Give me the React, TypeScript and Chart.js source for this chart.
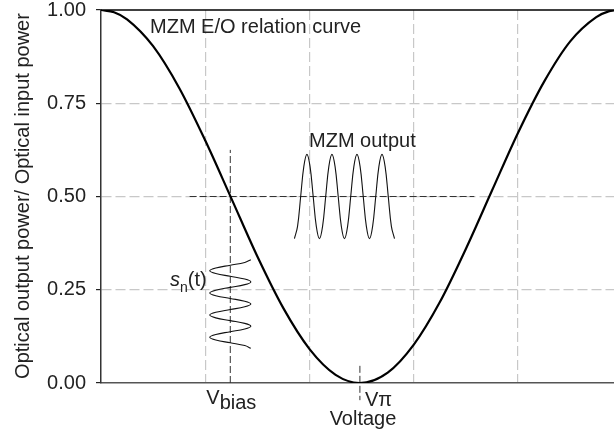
import React, { useEffect, useRef } from "react";
import { Chart, registerables } from "chart.js";

Chart.register(...registerables);

// E/O relation curve (normalized optical power vs voltage, grid units)
const CURVE_X = [0, 0.125, 0.25, 0.5, 0.75, 1.0, 1.25, 1.5, 1.75, 2.0, 2.25, 2.48, 2.75, 3.0, 3.25, 3.5, 3.75, 4.0, 4.25, 4.5, 4.75, 4.875, 4.92];
const CURVE_Y = [1.0, 0.994, 0.975, 0.903, 0.791, 0.65, 0.495, 0.339, 0.2, 0.091, 0.022, 0.0, 0.028, 0.103, 0.217, 0.36, 0.516, 0.671, 0.808, 0.916, 0.981, 0.997, 0.999];

// MZM output waveform
const MZM_X = [1.855, 1.885, 1.915, 1.945, 1.975, 2.005, 2.035, 2.065, 2.095, 2.125, 2.155, 2.185, 2.215, 2.245, 2.275, 2.305, 2.335, 2.365, 2.395, 2.425, 2.455, 2.485, 2.515, 2.545, 2.575, 2.605, 2.635, 2.665, 2.695, 2.725, 2.755, 2.785, 2.815];
const MZM_Y = [0.387, 0.42, 0.5, 0.58, 0.613, 0.58, 0.5, 0.42, 0.387, 0.42, 0.5, 0.58, 0.613, 0.58, 0.5, 0.42, 0.387, 0.42, 0.5, 0.58, 0.613, 0.58, 0.5, 0.42, 0.387, 0.42, 0.5, 0.58, 0.613, 0.58, 0.5, 0.42, 0.387];

// input signal s_n(t) (drawn vertically around V_bias)
const SN_X = [1.437, 1.379, 1.24, 1.101, 1.043, 1.101, 1.24, 1.379, 1.437, 1.379, 1.24, 1.101, 1.043, 1.101, 1.24, 1.379, 1.437, 1.379, 1.24, 1.101, 1.043, 1.101, 1.24, 1.379, 1.437, 1.379, 1.24, 1.101, 1.043, 1.101, 1.24, 1.379, 1.437];
const SN_Y = [0.3305, 0.3231, 0.3157, 0.3082, 0.3008, 0.2934, 0.286, 0.2786, 0.2711, 0.2637, 0.2563, 0.2489, 0.2414, 0.234, 0.2266, 0.2192, 0.2118, 0.2043, 0.1969, 0.1895, 0.1821, 0.1746, 0.1672, 0.1598, 0.1524, 0.145, 0.1375, 0.1301, 0.1227, 0.1153, 0.1078, 0.1004, 0.093];

// reference lines
const VBIAS = 1.24;
const VPI = 2.483;
const BIAS_LINE_X = [VBIAS, VBIAS];
const BIAS_LINE_Y = [0, 0.625];
const HALF_LINE_X = [0.85, 3.58];
const HALF_LINE_Y = [0.5, 0.5];
const VPI_LINE_X = [VPI, VPI];
const VPI_LINE_Y = [0.046, -0.046];

const X_MIN = 0;
const X_MAX = 4.92;
const Y_TICKS = [0, 0.25, 0.5, 0.75, 1.0];

const FONT = '"Liberation Sans", Arial, Helvetica, sans-serif';
const TEXT_COLOR = "#222";

const zip = (xs: number[], ys: number[]) => xs.map((x, i) => ({ x, y: ys[i] }));

const annotationPlugin = {
  id: "annotations",
  afterDraw(chart: any) {
    const { ctx, chartArea, scales } = chart;
    const xs = scales.x;
    ctx.save();
    // top frame line
    ctx.strokeStyle = "#000";
    ctx.lineWidth = 1.5;
    ctx.beginPath();
    ctx.moveTo(chartArea.left, chartArea.top);
    ctx.lineTo(chartArea.right, chartArea.top);
    ctx.stroke();

    ctx.fillStyle = TEXT_COLOR;
    ctx.textBaseline = "alphabetic";
    ctx.textAlign = "left";
    ctx.font = `20px ${FONT}`;
    ctx.fillText("MZM E/O relation curve", 150, 33);
    ctx.fillText("MZM output", 309, 147);

    // s_n(t)
    let sx = 170;
    ctx.font = `italic 20px ${FONT}`;
    ctx.fillText("s", sx, 286);
    sx += ctx.measureText("s").width;
    ctx.font = `14px ${FONT}`;
    ctx.fillText("n", sx, 292);
    sx += ctx.measureText("n").width;
    ctx.font = `20px ${FONT}`;
    ctx.fillText("(t)", sx, 286);

    // V_bias
    const bx = xs.getPixelForValue(VBIAS);
    ctx.font = `20px ${FONT}`;
    let vx = bx - 24;
    ctx.fillText("V", vx, 404);
    vx += ctx.measureText("V").width;
    ctx.fillText("bias", vx, 409);

    // V_pi
    const px = xs.getPixelForValue(VPI);
    let wx = px + 5;
    ctx.fillText("V", wx, 406);
    wx += ctx.measureText("V").width;
    ctx.fillText("\u03c0", wx, 406);

    // x title
    ctx.textAlign = "center";
    ctx.fillText("Voltage", 363, 425);

    // y title
    ctx.translate(28.5, 196);
    ctx.rotate(-Math.PI / 2);
    ctx.font = `20px ${FONT}`;
    ctx.fillText("Optical output power/ Optical input power", 0, 0);
    ctx.restore();
  },
};

export default function App() {
  const ref = useRef<HTMLCanvasElement>(null);
  useEffect(() => {
    if (!ref.current) return;
    const chart = new Chart(ref.current, {
      type: "line",
      data: {
        datasets: [
          {
            data: zip(CURVE_X, CURVE_Y),
            borderColor: "#000",
            borderWidth: 2.2,
            pointRadius: 0,
            cubicInterpolationMode: "monotone",
            fill: false,
          },
          {
            data: zip(MZM_X, MZM_Y),
            borderColor: "#111",
            borderWidth: 1.1,
            pointRadius: 0,
            tension: 0.4,
            fill: false,
          },
          {
            data: zip(SN_X, SN_Y),
            borderColor: "#111",
            borderWidth: 1.1,
            pointRadius: 0,
            tension: 0.4,
            fill: false,
          },
          {
            data: zip(HALF_LINE_X, HALF_LINE_Y),
            borderColor: "#333",
            borderWidth: 1,
            borderDash: [7, 3],
            pointRadius: 0,
            fill: false,
          },
          {
            data: zip(BIAS_LINE_X, BIAS_LINE_Y),
            borderColor: "#333",
            borderWidth: 1,
            borderDash: [7, 3],
            pointRadius: 0,
            fill: false,
          },
          {
            data: zip(VPI_LINE_X, VPI_LINE_Y),
            borderColor: "#333",
            borderWidth: 1,
            borderDash: [7, 3],
            pointRadius: 0,
            fill: false,
            clip: false as any,
          },
        ],
      },
      options: {
        animation: false,
        responsive: false,
        devicePixelRatio: 1,
        layout: { autoPadding: false, padding: { top: 10, right: 0, left: 0, bottom: 0 } },
        plugins: { legend: { display: false }, tooltip: { enabled: false } },
        scales: {
          x: {
            type: "linear",
            min: X_MIN,
            max: X_MAX,
            afterFit: (s: any) => {
              s.height = 54;
              s.paddingLeft = 0;
              s.paddingRight = 0;
            },
            ticks: { stepSize: 1, includeBounds: false, callback: () => "" },
            grid: {
              drawTicks: false,
              lineWidth: 1.2,
              color: (c: any) => (c.tick && c.tick.value === 0 ? "rgba(0,0,0,0)" : "#c8c8c8"),
            },
            border: { color: "#555", width: 1.5, dash: [10, 4] },
          },
          y: {
            type: "linear",
            min: 0,
            max: 1,
            afterFit: (s: any) => {
              s.width = 101;
              s.paddingTop = 0;
              s.paddingBottom = 0;
            },
            afterBuildTicks: (s: any) => {
              s.ticks = Y_TICKS.map((v) => ({ value: v }));
            },
            ticks: {
              padding: 10,
              color: TEXT_COLOR,
              font: { family: FONT, size: 20, lineHeight: 1 },
              callback: (v: any) => Number(v).toFixed(2),
            },
            grid: {
              lineWidth: 1.2,
              tickLength: 5,
              tickColor: "#222",
              tickWidth: 1.2,
              tickBorderDash: [],
              color: (c: any) =>
                c.tick && (c.tick.value === 0 || c.tick.value === 1) ? "rgba(0,0,0,0)" : "#c8c8c8",
            },
            border: { color: "#333", width: 1.5, dash: [10, 4] },
          },
        },
      },
      plugins: [annotationPlugin],
    } as any);
    return () => chart.destroy();
  }, []);
  return (
    <div style={{ position: "absolute", left: 0, top: 0, width: 614, height: 437, background: "#fff" }}>
      <canvas ref={ref} width={614} height={437} style={{ display: "block" }} />
    </div>
  );
}
